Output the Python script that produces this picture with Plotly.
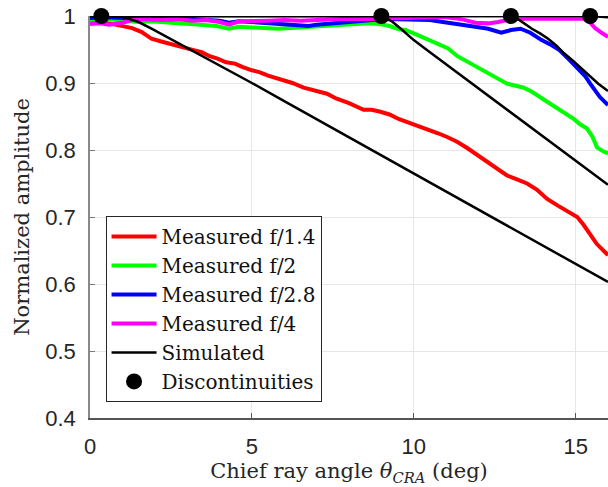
import plotly.graph_objects as go

# Measured normalized amplitude vs. chief ray angle (deg)
f14_x = [0, 0.3, 0.6, 1.08, 1.3, 1.6, 1.9, 2.2, 2.42, 2.7, 2.94, 3.2, 3.45, 3.7, 3.96,
         4.2, 4.48, 4.7, 5.0, 5.25, 5.5, 5.8, 6.25, 6.6, 7.0, 7.32, 7.6, 8.0, 8.45, 8.7,
         8.97, 9.25, 9.55, 9.97, 10.35, 10.75, 11.05, 11.35, 11.65, 12.05, 12.35, 12.65,
         12.88, 13.15, 13.5, 13.8, 14.12, 14.45, 14.75, 15.05, 15.25, 15.45, 15.65, 16.0]
f14_y = [0.990, 0.991, 0.989, 0.985, 0.982, 0.976, 0.966, 0.962, 0.959, 0.955, 0.951, 0.949,
         0.946, 0.940, 0.936, 0.931, 0.929, 0.924, 0.919, 0.916, 0.911, 0.907, 0.900, 0.893,
         0.888, 0.884, 0.877, 0.870, 0.860, 0.860, 0.857, 0.853, 0.846, 0.839, 0.832, 0.825,
         0.819, 0.812, 0.803, 0.790, 0.780, 0.771, 0.762, 0.757, 0.750, 0.741, 0.727, 0.717,
         0.709, 0.700, 0.688, 0.675, 0.660, 0.643]

f2_x = [0, 0.3, 0.6, 1.0, 1.5, 1.9, 2.3, 2.7, 3.1, 3.5, 3.9, 4.28, 4.6, 5.0, 5.4, 5.8, 6.2,
        6.6, 7.0, 7.4, 7.8, 8.2, 8.6, 8.95, 9.25, 9.55, 9.75, 10.0, 10.35, 10.75, 11.05,
        11.35, 11.75, 12.05, 12.45, 12.88, 13.4, 13.65, 14.12, 14.45, 14.72, 14.95, 15.15,
        15.35, 15.52, 15.66, 15.85, 16.0]
f2_y = [0.994, 0.996, 0.995, 0.993, 0.991, 0.992, 0.990, 0.989, 0.988, 0.986, 0.985, 0.981,
        0.984, 0.983, 0.982, 0.981, 0.982, 0.983, 0.984, 0.985, 0.986, 0.987, 0.989, 0.988,
        0.985, 0.980, 0.979, 0.974, 0.967, 0.959, 0.952, 0.940, 0.929, 0.921, 0.910, 0.899,
        0.893, 0.887, 0.872, 0.862, 0.854, 0.846, 0.838, 0.832, 0.820, 0.804, 0.798, 0.795]

f28_x = [0, 0.5, 1.0, 1.5, 2.0, 2.5, 3.0, 3.5, 4.0, 4.3, 4.6, 5.0, 5.5, 6.0, 6.5, 6.75, 7.0,
         7.5, 8.0, 8.5, 9.0, 9.5, 10.0, 10.5, 10.9, 11.4, 11.9, 12.3, 12.7, 13.0, 13.3, 13.6,
         13.95, 14.2, 14.5, 14.8, 15.1, 15.3, 15.45, 15.6, 15.75, 16.0]
f28_y = [0.997, 0.998, 0.997, 0.996, 0.996, 0.995, 0.996, 0.994, 0.993, 0.990, 0.992, 0.991,
         0.989, 0.988, 0.986, 0.985, 0.987, 0.989, 0.991, 0.994, 0.995, 0.995, 0.995, 0.994,
         0.991, 0.988, 0.984, 0.981, 0.975, 0.979, 0.981, 0.975, 0.964, 0.958, 0.949, 0.935,
         0.919, 0.910, 0.899, 0.889, 0.879, 0.867]

f4_x = [0, 0.3, 0.6, 1.0, 1.3, 1.7, 2.2, 2.7, 3.2, 3.6, 4.0, 4.3, 4.6, 5.0, 5.5, 6.0, 6.5,
        7.0, 7.5, 8.0, 8.5, 9.0, 9.5, 10.0, 10.5, 11.0, 11.5, 11.9, 12.3, 12.6, 13.0, 13.5,
        14.0, 14.5, 15.0, 15.3, 15.45, 15.6, 15.8, 16.0]
f4_y = [0.988, 0.989, 0.987, 0.990, 0.994, 0.995, 0.994, 0.995, 0.993, 0.994, 0.991, 0.987,
        0.992, 0.993, 0.993, 0.994, 0.993, 0.994, 0.995, 0.996, 0.995, 0.996, 0.997, 0.997,
        0.998, 0.998, 0.995, 0.990, 0.989, 0.991, 0.995, 0.996, 0.996, 0.997, 0.997, 0.996,
        0.990, 0.982, 0.975, 0.969]

# Simulated curves (one per f-number)
sim14_x = [0, 0.35, 0.75, 1.05, 1.5, 1.9, 2.4, 2.9, 3.5, 3.95, 5, 6, 7, 8, 9, 10, 11, 12,
           13, 14, 15, 16]
sim14_y = [1, 1, 1, 0.998, 0.991, 0.981, 0.968, 0.955, 0.939, 0.927, 0.900, 0.873, 0.846,
           0.819, 0.792, 0.765, 0.738, 0.711, 0.684, 0.657, 0.630, 0.603]
sim2_x = [0, 9.0, 9.15, 9.35, 9.6, 10.0, 10.5, 11, 11.5, 12, 12.5, 13, 13.5, 14, 14.5, 15,
          15.5, 16]
sim2_y = [1, 1, 0.997, 0.991, 0.981, 0.964, 0.946, 0.928, 0.910, 0.892, 0.874, 0.856, 0.838,
          0.820, 0.802, 0.784, 0.766, 0.748]
sim28_x = [0, 13.0, 13.2, 13.4, 13.65, 13.9, 14.15, 14.4, 14.65, 14.9, 15.2, 15.45, 15.7, 16]
sim28_y = [1, 1, 0.996, 0.989, 0.981, 0.974, 0.966, 0.956, 0.944, 0.934, 0.921, 0.909,
           0.899, 0.888]
sim4_x = [0, 15.45, 16]
sim4_y = [1, 1, 0.998]

# Discontinuity locations
disc_x = [0.35, 9.0, 13.0, 15.45]
disc_y = [1, 1, 1, 1]

x_ticks = [0, 5, 10, 15]
y_ticks = [0.4, 0.5, 0.6, 0.7, 0.8, 0.9, 1.0]
y_tick_text = ["0.4", "0.5", "0.6", "0.7", "0.8", "0.9", "1"]

fig = go.Figure()

measured = [
    ("Measured f/1.4", f14_x, f14_y, "#ff0000"),
    ("Measured f/2", f2_x, f2_y, "#00ff00"),
    ("Measured f/2.8", f28_x, f28_y, "#0000ff"),
    ("Measured f/4", f4_x, f4_y, "#ff00ff"),
]
for name, xs, ys, col in measured:
    fig.add_trace(go.Scatter(x=xs, y=ys, mode="lines", name=name,
                             line=dict(color=col, width=4), cliponaxis=False))

sims = [(sim14_x, sim14_y), (sim2_x, sim2_y), (sim28_x, sim28_y), (sim4_x, sim4_y)]
for i, (xs, ys) in enumerate(sims):
    fig.add_trace(go.Scatter(x=xs, y=ys, mode="lines", name="Simulated",
                             showlegend=(i == 0), legendgroup="sim",
                             line=dict(color="black", width=2.5), cliponaxis=False))

fig.add_trace(go.Scatter(x=disc_x, y=disc_y, mode="markers", name="Discontinuities",
                         marker=dict(color="black", size=16), cliponaxis=False))

serif = "DejaVu Serif, Liberation Serif, serif"
sans = "Liberation Sans, Arial, Helvetica, sans-serif"

fig.update_layout(
    width=608, height=487, autosize=False,
    margin=dict(l=90, r=0, t=16, b=69),
    paper_bgcolor="white", plot_bgcolor="white",
    showlegend=True,
    legend=dict(
        x=0.03, y=0.04, xanchor="left", yanchor="bottom",
        bgcolor="white", bordercolor="#262626", borderwidth=1,
        font=dict(family=serif, size=20, color="#111111"),
        itemwidth=45, traceorder="normal", tracegroupgap=0,
    ),
    xaxis=dict(
        range=[0, 16.0], tickvals=x_ticks, ticks="inside", ticklen=5,
        tickcolor="#555555", showline=True, linecolor="#555555", linewidth=1.5,
        showgrid=True, gridcolor="#e6e6e6", gridwidth=1, zeroline=False,
        tickfont=dict(family=sans, size=22, color="#262626"),
        ticklabelstandoff=8,
        title=dict(text="Chief ray angle <i>θ</i><sub><i>CRA</i></sub> (deg)",
                   font=dict(family=serif, size=21, color="#262626"), standoff=2),
    ),
    yaxis=dict(
        range=[0.4, 1.0], tickvals=y_ticks, ticktext=y_tick_text, ticks="inside",
        ticklen=5, tickcolor="#777777", showline=True, linecolor="#888888", linewidth=1.5,
        showgrid=True, gridcolor="#e6e6e6", gridwidth=1, zeroline=False,
        tickfont=dict(family=sans, size=22, color="#262626"),
        ticklabelstandoff=8,
        title=dict(text="Normalized amplitude",
                   font=dict(family=serif, size=21, color="#262626"), standoff=10),
    ),
)

fig.write_html("out.html")
